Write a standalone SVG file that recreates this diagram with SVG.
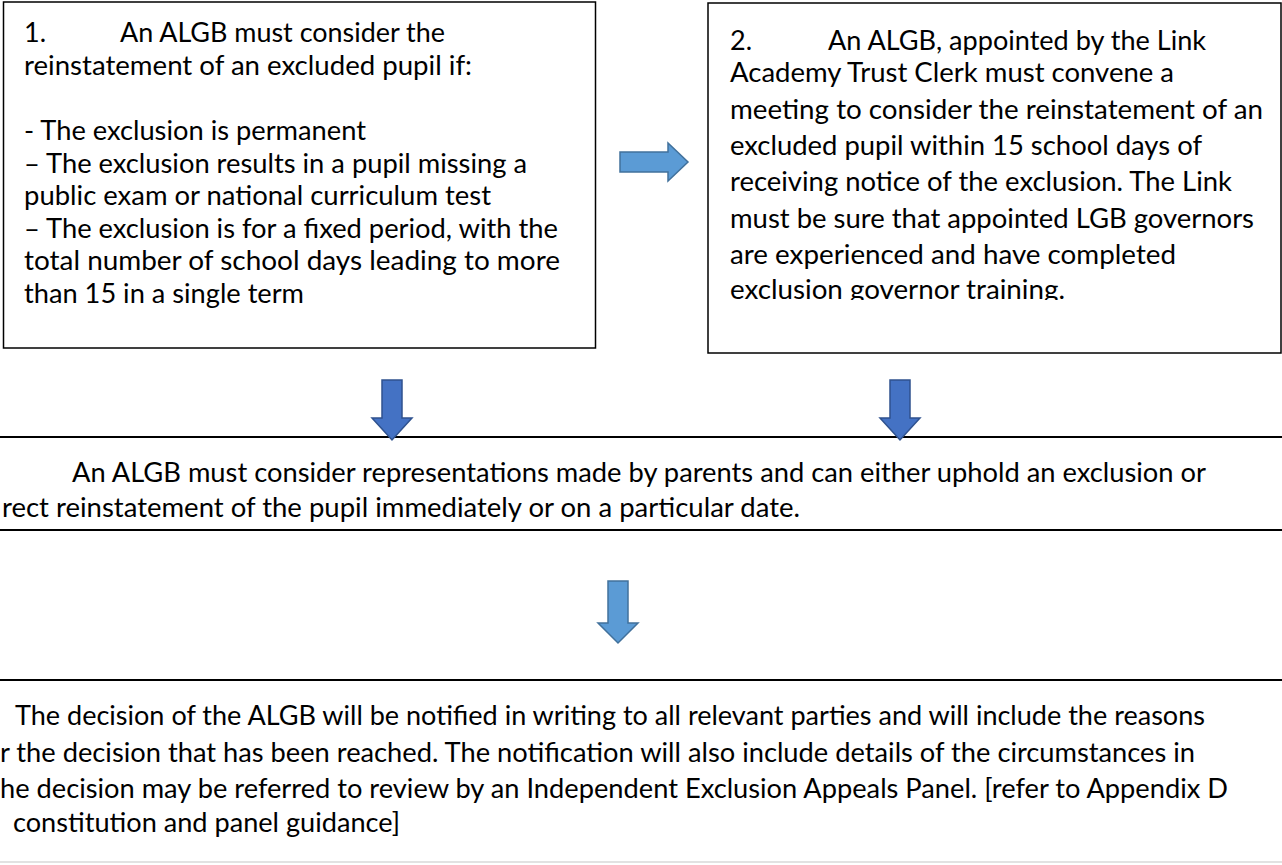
<svg xmlns="http://www.w3.org/2000/svg" width="1282" height="865" viewBox="0 0 1282 865">
<style>
.t{font-family:Lato,"Liberation Sans",sans-serif;font-size:27px;fill:#000}
.box{fill:#fff;stroke:#000;stroke-width:1.5}
.band{stroke:#000;stroke-width:2;fill:none}
.arrL{fill:#5B9BD5;stroke:#41719C;stroke-width:1.5;stroke-linejoin:miter}
.arrD{fill:#4472C4;stroke:#2F528F;stroke-width:1.5;stroke-linejoin:miter}
</style>
<defs>
<clipPath id="clip2"><rect x="700" y="0" width="582" height="300"/></clipPath>
</defs>
<rect width="1282" height="865" fill="#fff"/>

<g id="node1">
<rect class="box" x="3.5" y="2" width="592" height="346"/>
<text class="t" x="24" y="42">1.</text>
<text class="t" x="120" y="42" textLength="325" lengthAdjust="spacingAndGlyphs">An ALGB must consider the</text>
<text class="t" x="24" y="75" textLength="448" lengthAdjust="spacingAndGlyphs">reinstatement of an excluded pupil if:</text>
<text class="t" x="24" y="140" textLength="342" lengthAdjust="spacingAndGlyphs">- The exclusion is permanent</text>
<text class="t" x="24" y="172.5" textLength="503" lengthAdjust="spacingAndGlyphs">– The exclusion results in a pupil missing a</text>
<text class="t" x="24" y="205" textLength="467" lengthAdjust="spacingAndGlyphs">public exam or national curriculum test</text>
<text class="t" x="24" y="237.5" textLength="534" lengthAdjust="spacingAndGlyphs">– The exclusion is for a fixed period, with the</text>
<text class="t" x="24" y="270" textLength="536" lengthAdjust="spacingAndGlyphs">total number of school days leading to more</text>
<text class="t" x="24" y="302.5" textLength="280" lengthAdjust="spacingAndGlyphs">than 15 in a single term</text>
</g>

<g id="node2">
<rect class="box" x="708" y="3" width="573" height="350"/>
<g clip-path="url(#clip2)">
<text class="t" x="730" y="49.5">2.</text>
<text class="t" x="828" y="49.5" textLength="378" lengthAdjust="spacingAndGlyphs">An ALGB, appointed by the Link</text>
<text class="t" x="730" y="81.5" textLength="444" lengthAdjust="spacingAndGlyphs">Academy Trust Clerk must convene a</text>
<text class="t" x="730" y="118.5" textLength="533" lengthAdjust="spacingAndGlyphs">meeting to consider the reinstatement of an</text>
<text class="t" x="730" y="154.5" textLength="472" lengthAdjust="spacingAndGlyphs">excluded pupil within 15 school days of</text>
<text class="t" x="730" y="191" textLength="502" lengthAdjust="spacingAndGlyphs">receiving notice of the exclusion. The Link</text>
<text class="t" x="730" y="227.5" textLength="524" lengthAdjust="spacingAndGlyphs">must be sure that appointed LGB governors</text>
<text class="t" x="730" y="263.5" textLength="446" lengthAdjust="spacingAndGlyphs">are experienced and have completed</text>
<text class="t" x="730" y="299" textLength="335" lengthAdjust="spacingAndGlyphs">exclusion governor training.</text>
</g>
</g>

<g id="node3">
<line class="band" x1="0" y1="437" x2="1282" y2="437"/>
<line class="band" x1="0" y1="530" x2="1282" y2="530"/>
<text class="t" x="72" y="481.5" textLength="1134" lengthAdjust="spacingAndGlyphs">An ALGB must consider representations made by parents and can either uphold an exclusion or</text>
<text class="t" x="2" y="517" textLength="798" lengthAdjust="spacingAndGlyphs">rect reinstatement of the pupil immediately or on a particular date.</text>
</g>

<g id="node4">
<line class="band" x1="0" y1="680" x2="1282" y2="680"/>
<line x1="0" y1="862" x2="1282" y2="862" stroke="#d9d9d9" stroke-width="1.5"/>
<text class="t" x="15" y="725" textLength="1190" lengthAdjust="spacingAndGlyphs">The decision of the ALGB will be notified in writing to all relevant parties and will include the reasons</text>
<text class="t" x="0" y="761.5" textLength="1195" lengthAdjust="spacingAndGlyphs">r the decision that has been reached. The notification will also include details of the circumstances in</text>
<text class="t" x="0" y="798" textLength="1228" lengthAdjust="spacingAndGlyphs">he decision may be referred to review by an Independent Exclusion Appeals Panel. [refer to Appendix D</text>
<text class="t" x="13" y="832" textLength="387" lengthAdjust="spacingAndGlyphs">constitution and panel guidance]</text>
</g>

<g id="connectors">
<polygon class="arrL" points="620,152 668,152 668,143 688,162 668,181 668,172 620,172"/>
<polygon class="arrD" points="382,380 402,380 402,418 412,418 392,440 372,418 382,418"/>
<polygon class="arrD" points="890,380 910,380 910,418 920,418 900,440 880,418 890,418"/>
<polygon class="arrL" points="608,581 628,581 628,623 638,623 618,643 598,623 608,623"/>
</g>
</svg>
